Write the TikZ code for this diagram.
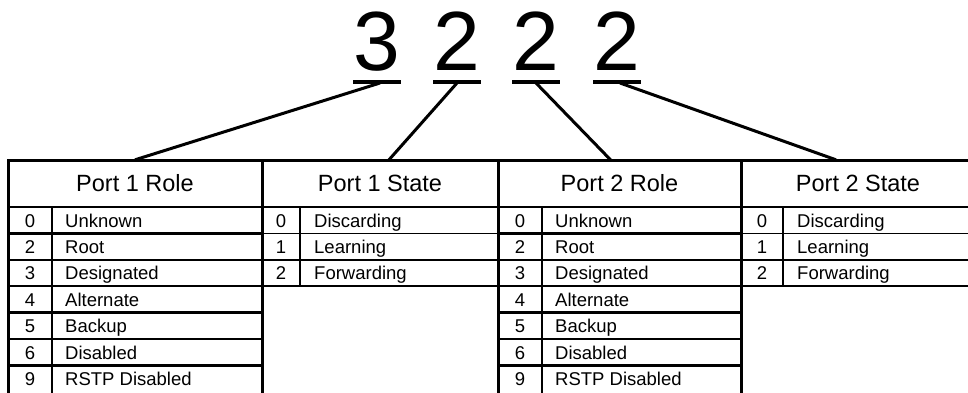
\documentclass[tikz,border=0pt]{standalone}
\usepackage{fontspec}
\setmainfont{Liberation Sans}
\tikzset{
  digit/.style={anchor=base,inner sep=0pt,font=\fontsize{84}{90}\selectfont},
  uline/.style={line width=4pt},
  link/.style={line width=3pt},
  frame/.style={line width=3pt},
  rule/.style={line width=2.4pt},
  thinrule/.style={line width=1.7pt},
  head/.style={inner sep=0pt,text height=16.8pt,text depth=0pt,
    minimum height=47pt,font=\fontsize{23.5}{26}\selectfont},
  cell/.style={inner sep=0pt,font=\fontsize{18.5}{20}\selectfont},
}
\begin{document}
\begin{tikzpicture}[x=1pt,y=-1pt]
\useasboundingbox (0,0) rectangle (968,392);

% the code, one digit per field
\foreach \c/\x [count=\i] in {3/377,2/457,2/536,2/617} {
  \node[digit] (d\i) at (\x,70) {\c};
  \draw[uline] ([yshift=-12pt]d\i.base west) -- ([yshift=-12pt]d\i.base east);
}

% table heads
\foreach \xa/\xb/\t [count=\i] in {8/262/Port 1 Role,262/498/Port 1 State,
    498/741/Port 2 Role,741/975/Port 2 State}
  \node[head,minimum width={(\xb-\xa)*1pt}] (h\i) at ({(\xa+\xb)/2},183.5) {\t};

\draw[link] ([xshift=3pt,yshift=-13pt]d1.base) -- (h1.north);
\draw[link] ([yshift=-13pt]d2.base) -- ([xshift=9pt]h2.north);
\draw[link] ([yshift=-13pt]d3.base) -- ([xshift=-9pt]h3.north);
\draw[link] ([xshift=3pt,yshift=-13pt]d4.base) -- ([xshift=-22pt]h4.north);

% frame
\draw[frame] (8,396) -- (8,160) -- (975,160);
\foreach \x in {262,498,741}
  \draw[frame] (\x,160) -- (\x,396);
\draw[rule] (8,207) -- (975,207);

% role columns
\foreach \xa/\xn/\xb/\p in {8/52/262/a,498/542/741/c} {
  \draw[thinrule] (\xn,207) -- (\xn,396);
  \foreach \k in {1,...,6}
    \draw[rule] (\xa,{207+26.4*\k}) -- (\xb,{207+26.4*\k});
  \foreach \v/\t [count=\k] in {0/Unknown,2/Root,3/Designated,4/Alternate,
      5/Backup,6/Disabled,9/RSTP Disabled} {
    \node[cell,anchor=base] (\p n\k) at ({(\xa+\xn)/2},{207+26.4*\k-6.4}) {\v};
    \node[cell,anchor=base west] (\p t\k) at (\xn+13,{207+26.4*\k-6.4}) {\t};
  }
}

% state columns
\foreach \xa/\xn/\xb/\p in {262/300/498/b,741/783/975/d} {
  \draw[thinrule] (\xn,207) -- (\xn,{207+26.4*3});
  \foreach \k in {1,2}
    \draw[thinrule] (\xa,{207+26.4*\k}) -- (\xb,{207+26.4*\k});
  \draw[rule] (\xa,{207+26.4*3}) -- (\xb,{207+26.4*3});
  \foreach \v/\t [count=\k] in {0/Discarding,1/Learning,2/Forwarding} {
    \node[cell,anchor=base] (\p n\k) at ({(\xa+\xn)/2},{207+26.4*\k-6.4}) {\v};
    \node[cell,anchor=base west] (\p t\k) at (\xn+14,{207+26.4*\k-6.4}) {\t};
  }
}
\end{tikzpicture}
\end{document}
